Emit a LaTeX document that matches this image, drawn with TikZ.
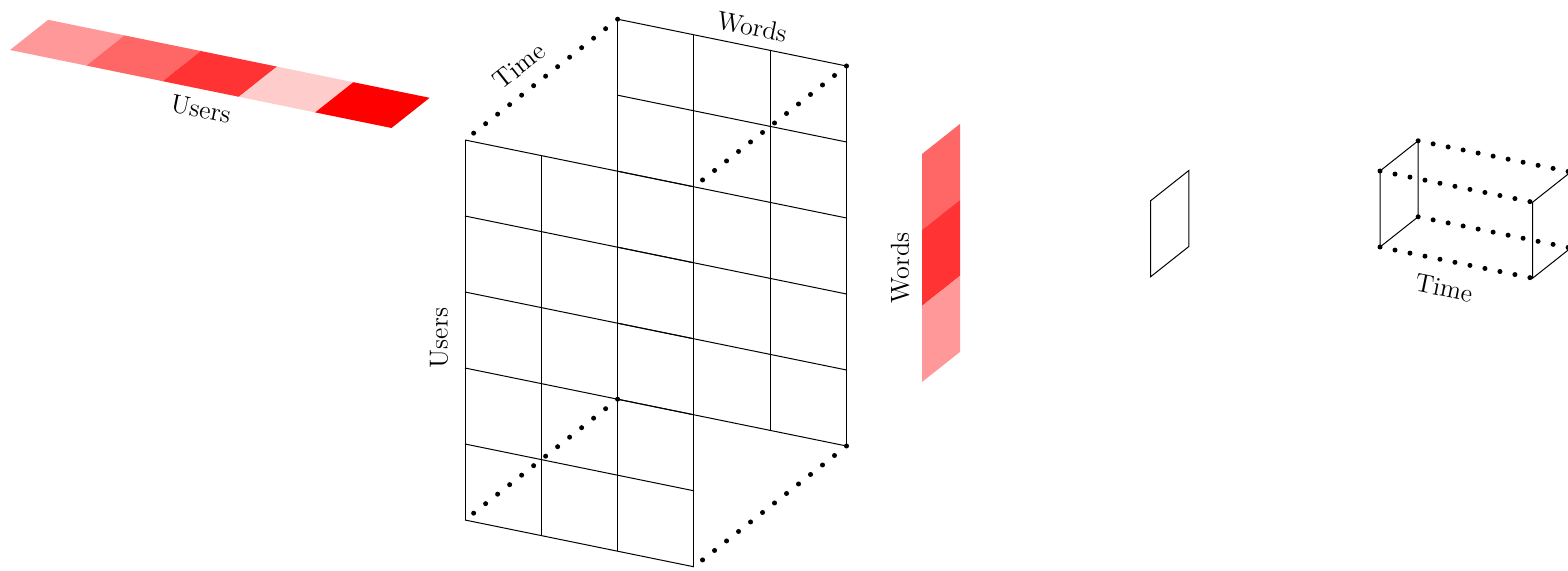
\documentclass[tikz,border=0pt]{standalone}
\usetikzlibrary{calc}
\begin{document}
\begin{tikzpicture}[x=0.5pt,y=-0.5pt,
  gridline/.style={line width=0.5pt,black},
  dotline/.style={line width=2.5pt,line cap=round,dash pattern=on 0pt off 7.65pt},
  lbl/.style={inner sep=0pt,font=\fontsize{13}{15}\selectfont},
  iso/.style={x={(38.15pt,-7.8pt)},y={(0pt,-38pt)},z={(19.075pt,15.1pt)}}
]
\useasboundingbox (0,0) rectangle (1568,571);

% left strip (Users)
\begin{scope}[shift={(5pt,-25pt)},iso]
  \foreach \i/\c in {0/40,1/60,2/80,3/20,4/100}
    \fill[red!\c] (\i,0,0) -- (\i+1,0,0) -- (\i+1,0,1) -- (\i,0,1) -- cycle;
\end{scope}
\node[lbl,rotate=-11.6] (usersA) at (201,109) {Users};

% cube
\begin{scope}[shift={(232.5pt,-70pt)},iso]
  \foreach \zz in {0,4}{
    \foreach \i in {0,...,3} \draw[gridline] (\i,0,\zz) -- (\i,5,\zz);
    \foreach \j in {0,...,5} \draw[gridline] (0,\j,\zz) -- (3,\j,\zz);
  }
  \coordinate (c000) at (0,0,0);
  \coordinate (c004) at (0,0,4);
  \coordinate (c300) at (3,0,0);
  \coordinate (c304) at (3,0,4);
  \coordinate (c050) at (0,5,0);
  \coordinate (c054) at (0,5,4);
  \coordinate (c350) at (3,5,0);
  \coordinate (c354) at (3,5,4);
  \draw[dotline] (c004) -- (c000);
  \draw[dotline] (c304) -- (c300);
  \draw[dotline] (c054) -- (c050);
  \draw[dotline] (c354) -- (c350);
\end{scope}
\node[lbl,rotate=38.4] (timeA) at (519,66) {Time};
\node[lbl,rotate=-11.6] (wordsA) at (752,27) {Words};
\node[lbl,rotate=90] (usersB) at (439,338) {Users};

% words strip
\begin{scope}[shift={(461pt,-77pt)},iso]
  \foreach \j/\c in {0/60,1/80,2/40}
    \fill[red!\c] (0,\j,0) -- (0,\j+1,0) -- (0,\j+1,1) -- (0,\j,1) -- cycle;
\end{scope}
\node[lbl,rotate=90] (wordsB) at (900,268) {Words};

% small slice
\begin{scope}[shift={(575.35pt,-100.35pt)},iso]
  \draw[gridline] (0,0,0) -- (0,0,1) -- (0,1,1) -- (0,1,0) -- cycle;
\end{scope}

% right box
\begin{scope}[shift={(690pt,-85.5pt)},iso]
  \coordinate (b000) at (0,0,0);
  \coordinate (b001) at (0,0,1);
  \coordinate (b010) at (0,1,0);
  \coordinate (b011) at (0,1,1);
  \coordinate (b200) at (2,0,0);
  \coordinate (b201) at (2,0,1);
  \coordinate (b210) at (2,1,0);
  \coordinate (b211) at (2,1,1);
  \draw[gridline] (b000) -- (b001) -- (b011) -- (b010) -- cycle;
  \draw[gridline] (b200) -- (b201) -- (b211) -- (b210) -- cycle;
  \draw[dotline] (b000) -- (b200);
  \draw[dotline] (b010) -- (b210);
  \draw[dotline] (b001) -- (b201);
  \draw[dotline] (b011) -- (b211);
\end{scope}
\node[lbl,rotate=-11.6] (timeB) at (1444,288) {Time};
\end{tikzpicture}
\end{document}
